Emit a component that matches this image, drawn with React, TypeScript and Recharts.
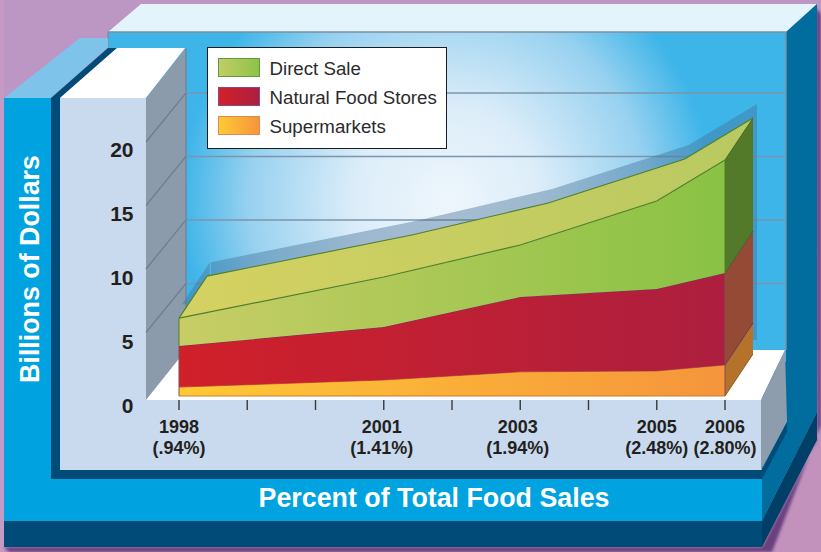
import React from "react";
import {
  Area,
  AreaChart,
  CartesianGrid,
  ComposedChart,
  Label,
  Legend,
  Line,
  ReferenceLine,
  XAxis,
  YAxis,
} from "recharts";

// Survey years and the share of total food sales printed under each one
const years = [1998, 2001, 2003, 2005, 2006];
const shareLabels = ["(.94%)", "(1.41%)", "(1.94%)", "(2.48%)", "(2.80%)"];
const axisYears = [1998, 1999, 2000, 2001, 2002, 2003, 2004, 2005, 2006];
const dollarTicks = [0, 5, 10, 15, 20];
const wallLevels = [5, 10, 15, 20];

// Billions of dollars per channel
const supermarkets = [0.7, 1.26, 1.9, 1.97, 2.44];
const naturalFoodStores = [3.23, 4.17, 5.9, 6.46, 7.24];
const directSale = [2.2, 3.94, 4.09, 6.93, 8.9];

const legendNames = ["Direct Sale", "Natural Food Stores", "Supermarkets"];
const legendGradients = [
  "linear-gradient(90deg,#c3cd66,#8cc346)",
  "linear-gradient(90deg,#d2202a,#ac1f40)",
  "linear-gradient(90deg,#ffca36,#f5953b)",
];

const W = 821;
const H = 552;
const FONT = "'Liberation Sans', Arial, sans-serif";
const INK = "#231f20";

// Vertical rise of the extruded back edge, in axis units
const depthRise = 3.31;
const wallRise = 3.86;

const rows = years.map((year, i) => ({
  year,
  supermarkets: supermarkets[i],
  natural: naturalFoodStores[i],
  direct: directSale[i],
  total: supermarkets[i] + naturalFoodStores[i] + directSale[i],
}));

// Right-hand end cap of the extruded areas, one range band per channel
const last = rows[rows.length - 1];
const capRows = [0, depthRise].map((rise, depth) => ({
  depth,
  supermarkets: [rise, last.supermarkets + rise],
  natural: [last.supermarkets + rise, last.supermarkets + last.natural + rise],
  direct: [last.supermarkets + last.natural + rise, last.total + rise],
}));

// Sliver of the top face that joins the first year's front and back edges
const first = rows[0];
const sliverRows = [0, depthRise].map((rise, depth) => ({
  depth,
  face: [first.total, first.total + rise],
  edge: first.total + rise,
}));

const depthPoints = [
  { depth: 0, level: 0 },
  { depth: 1, level: 0 },
];

const plotY = { top: 78.5, bottom: 156 };
const plotMargin = { left: 179, right: 96, ...plotY };

const layer = (dx: number, dy: number): React.CSSProperties => ({
  position: "absolute",
  left: dx,
  top: dy,
});

const YearAxisHidden = (
  <XAxis dataKey="year" type="number" domain={[1998, 2006]} hide />
);
const DepthAxisHidden = (
  <XAxis dataKey="depth" type="number" domain={[0, 1]} hide />
);
const ValueAxisHidden = <YAxis type="number" domain={[0, 25]} hide />;

// Sideways nudge for the labels that sit off their tick
const labelShift: Record<number, number> = { 2001: -2, 2003: -2.5 };

function YearTick({ x, y, payload }: any) {
  const i = years.indexOf(payload.value);
  const cx = x + (labelShift[payload.value] ?? 0);
  return (
    <g>
      <line x1={x} x2={x} y1={y + 4} y2={y + 14} stroke="#3a3a3a" strokeWidth={1.4} />
      {i >= 0 && (
        <text textAnchor="middle" fontFamily={FONT} fontWeight={700} fontSize={18} fill={INK}>
          <tspan x={cx} y={y + 36.5}>{payload.value}</tspan>
          <tspan x={cx} y={y + 58}>{shareLabels[i]}</tspan>
        </text>
      )}
    </g>
  );
}

function DollarTick({ x, y, payload }: any) {
  return (
    <text
      x={x - 45.5}
      y={y + 16.7 - payload.value * 0.1}
      textAnchor="end"
      fontFamily={FONT}
      fontWeight={700}
      fontSize={21}
      fill={INK}
    >
      {payload.value}
    </text>
  );
}

function ChannelLegend() {
  return (
    <div
      style={{
        boxSizing: "border-box",
        width: 240,
        height: 102,
        background: "#fff",
        border: "1.5px solid #1d1d1f",
        position: "relative",
      }}
    >
      {legendNames.map((name, i) => (
        <div key={name}>
          <div
            style={{
              position: "absolute",
              left: 10,
              top: 9.5 + i * 29.4,
              width: 42,
              height: 19,
              boxSizing: "border-box",
              background: legendGradients[i],
              border: `1px solid ${["#5f9a45", "#8a4a80", "#dd8a55"][i]}`,
            }}
          />
          <div
            style={{
              position: "absolute",
              left: 61.5,
              top: 9.5 + i * 29.4,
              fontFamily: FONT,
              fontSize: 18.7,
              lineHeight: "21px",
              color: "#2b2b2d",
              whiteSpace: "nowrap",
            }}
          >
            {name}
          </div>
        </div>
      ))}
    </div>
  );
}

// The box the chart sits in: frame, back wall, side wall and floor
function Scenery() {
  return (
    <svg width={W} height={H} style={layer(0, 0)}>
      <defs>
        <radialGradient id="wallGlow" gradientUnits="userSpaceOnUse" cx={447} cy={200} r={265}>
          <stop offset="0" stopColor="#eef6fc" />
          <stop offset="0.35" stopColor="#dcedf9" />
          <stop offset="0.75" stopColor="#97d1f0" />
          <stop offset="1" stopColor="#3eb5e9" />
        </radialGradient>
        <filter id="soft" x="-5%" y="-5%" width="110%" height="110%">
          <feGaussianBlur stdDeviation="1.6" />
        </filter>
      </defs>
      <rect width={W} height={H} fill="#bc97c3" />
      <rect x={0} y={0} width={4} height={H} fill="#c79ac5" />
      <polygon points="821,425 821,552 772,552" fill="#c292bd" />
      <polygon
        points="816,8 821,14 821,425 772,552 9,552 4,547 762,547 817,440"
        fill="#6a417e"
        filter="url(#soft)"
      />

      {/* back of the box */}
      <polygon points="108,32 141,4 817,4 786,32" fill="#e3f4fc" />
      <polygon points="786,32 817,4 817,412 762,521 762,98 786,98" fill="#006d9e" />
      <rect x={108} y={32} width={678} height={330} fill="#3eb5e9" />
      <rect x={108} y={32} width={678} height={330} fill="url(#wallGlow)" />
      <path d="M108 47V32H786V350" fill="none" stroke="#7f8fa0" strokeWidth={1.4} />

      {/* front frame */}
      <polygon points="4,98 80,38 108,38 108,47 51,98" fill="#7ec3ea" />
      <polygon points="51,98 108,48 117,48 60,98" fill="#004b78" />
      <polygon points="60,98 117,48 185,48 146,98" fill="#ffffff" />
      <polygon points="146,98 186,48 186,350 146,400" fill="#8c9bac" />
      <line x1={186} y1={48} x2={186} y2={350} stroke="#728599" strokeWidth={1.4} />
      <polygon points="146,400 186,350 785,350 761,400" fill="#ffffff" />
      <polygon points="761,400 785,350 787,422 761,470" fill="#8d9dae" />
      <polygon points="762,470 787,422 787,432 762,479" fill="#004b78" />
      <polygon points="762,521 817,412 817,440 762,547" fill="#003f68" />

      <path d="M4 98H51V479H762V521H4Z" fill="#00a2df" />
      <path d="M51 98H60V470H762V479H51Z" fill="#004b78" />
      <path d="M60 98H146V400H761V470H60Z" fill="#c9daee" />
      <rect x={4} y={521} width={758} height={26} fill="#004b78" />
    </svg>
  );
}

// Gridlines on the back wall, at the same scale as the front, lifted by the box depth
function BackWallGrid() {
  return (
    <AreaChart
      style={layer(0, 0)}
      width={W}
      height={H}
      data={rows}
      margin={{ left: 186, right: 35, top: plotY.top - 49, bottom: plotY.bottom + 49 }}
    >
      <CartesianGrid
        horizontal
        vertical={false}
        horizontalValues={wallLevels}
        stroke="#7d95aa"
        strokeWidth={1.4}
      />
      {YearAxisHidden}
      <YAxis type="number" domain={[0, 25]} ticks={wallLevels} hide />
      <Area
        dataKey="total"
        fill="none"
        stroke="none"
        isAnimationActive={false}
        dot={false}
        activeDot={false}
      />
    </AreaChart>
  );
}

// Diagonal lines running from the labelled levels back across the side wall
function SideWallLines() {
  return (
    <ComposedChart
      style={layer(0, 0)}
      width={W}
      height={H}
      data={depthPoints}
      margin={{ left: 146, right: 635, ...plotY }}
    >
      {DepthAxisHidden}
      {ValueAxisHidden}
      <Line dataKey="level" stroke="none" dot={false} activeDot={false} isAnimationActive={false} />
      {wallLevels.map((level) => (
        <ReferenceLine
          key={level}
          segment={[
            { x: 0, y: level },
            { x: 1, y: level + wallRise },
          ]}
          stroke="#6b7d90"
          strokeWidth={1.2}
        />
      ))}
    </ComposedChart>
  );
}

// Copy of the overall total pushed back in depth, used for the top face and its shadow
function BackSilhouette({ dx, dy, fill, stroke }: { dx: number; dy: number; fill: string; stroke: string }) {
  return (
    <AreaChart style={layer(dx, dy)} width={W} height={H} data={rows} margin={plotMargin}>
      <defs>
        <linearGradient id="topFace" x1="0" x2="1" y1="0" y2="0">
          <stop offset="0" stopColor="#d3d161" />
          <stop offset="1" stopColor="#b8c961" />
        </linearGradient>
      </defs>
      {YearAxisHidden}
      {ValueAxisHidden}
      <Area
        dataKey="total"
        type="linear"
        fill={fill}
        fillOpacity={1}
        stroke={stroke}
        strokeWidth={1.1}
        isAnimationActive={false}
        dot={false}
        activeDot={false}
      />
    </AreaChart>
  );
}

function LeftSliver({ dx, dy, fill, stroke }: { dx: number; dy: number; fill: string; stroke: string }) {
  return (
    <ComposedChart
      style={layer(dx, dy)}
      width={W}
      height={H}
      data={sliverRows}
      margin={{ left: 179, right: 614, ...plotY }}
    >
      {DepthAxisHidden}
      {ValueAxisHidden}
      <Area
        dataKey="face"
        type="linear"
        fill={fill}
        fillOpacity={1}
        stroke="none"
        isAnimationActive={false}
        dot={false}
        activeDot={false}
      />
      <Line
        dataKey="edge"
        type="linear"
        stroke={stroke}
        strokeWidth={1.1}
        isAnimationActive={false}
        dot={false}
        activeDot={false}
      />
    </ComposedChart>
  );
}

function RightCap() {
  const bands = [
    { key: "supermarkets", fill: "#b4722b", stroke: "#8f5a2a" },
    { key: "natural", fill: "#954a36", stroke: "#6a3a62" },
    { key: "direct", fill: "#537a28", stroke: "#47692a" },
  ];
  return (
    <AreaChart
      style={layer(0, 0)}
      width={W}
      height={H}
      data={capRows}
      margin={{ left: 725, right: 68, ...plotY }}
    >
      {DepthAxisHidden}
      {ValueAxisHidden}
      {bands.map((b) => (
        <Area
          key={b.key}
          dataKey={b.key}
          type="linear"
          fill={b.fill}
          fillOpacity={1}
          stroke={b.stroke}
          strokeWidth={1}
          isAnimationActive={false}
          dot={false}
          activeDot={false}
        />
      ))}
    </AreaChart>
  );
}

function FrontChart() {
  return (
    <AreaChart
      style={layer(0, 0)}
      width={W}
      height={H}
      data={rows}
      margin={{ left: 0, right: plotMargin.right, top: plotY.top, bottom: 0 }}
    >
      <defs>
        <linearGradient id="directFill" x1="0" x2="1" y1="0" y2="0">
          <stop offset="0" stopColor="#c8cd66" />
          <stop offset="1" stopColor="#89c244" />
        </linearGradient>
        <linearGradient id="naturalFill" x1="0" x2="1" y1="0" y2="0">
          <stop offset="0" stopColor="#d0202a" />
          <stop offset="1" stopColor="#ad1f3f" />
        </linearGradient>
        <linearGradient id="marketFill" x1="0" x2="1" y1="0" y2="0">
          <stop offset="0" stopColor="#ffc835" />
          <stop offset="1" stopColor="#f5953c" />
        </linearGradient>
      </defs>
      <XAxis
        dataKey="year"
        type="number"
        domain={[1998, 2006]}
        ticks={axisYears}
        interval={0}
        height={plotY.bottom}
        axisLine={false}
        tickLine={false}
        tickSize={0}
        tickMargin={0}
        tick={<YearTick />}
      >
        <Label
          content={() => (
            <text
              x={434}
              y={507}
              textAnchor="middle"
              fontFamily={FONT}
              fontWeight={700}
              fontSize={26.8}
              fill="#ffffff"
            >
              Percent of Total Food Sales
            </text>
          )}
        />
      </XAxis>
      <YAxis
        type="number"
        domain={[0, 25]}
        ticks={dollarTicks}
        width={plotMargin.left}
        axisLine={false}
        tickLine={false}
        tickSize={0}
        tickMargin={0}
        tick={<DollarTick />}
      >
        <Label
          content={() => (
            <text
              x={39}
              y={269}
              transform="rotate(-90 39 269)"
              textAnchor="middle"
              fontFamily={FONT}
              fontWeight={700}
              fontSize={26.8}
              fill="#ffffff"
            >
              Billions of Dollars
            </text>
          )}
        />
      </YAxis>
      <Legend
        layout="vertical"
        align="center"
        verticalAlign="middle"
        content={<ChannelLegend />}
        wrapperStyle={{ left: 207, top: 47, width: 240, height: 102, margin: 0 }}
      />
      <Area
        dataKey="supermarkets"
        stackId="sales"
        type="linear"
        name="Supermarkets"
        fill="url(#marketFill)"
        fillOpacity={1}
        stroke="#b9682f"
        strokeWidth={1}
        isAnimationActive={false}
        dot={false}
        activeDot={false}
      />
      <Area
        dataKey="natural"
        stackId="sales"
        type="linear"
        name="Natural Food Stores"
        fill="url(#naturalFill)"
        fillOpacity={1}
        stroke="#6a3468"
        strokeWidth={1}
        isAnimationActive={false}
        dot={false}
        activeDot={false}
      />
      <Area
        dataKey="direct"
        stackId="sales"
        type="linear"
        name="Direct Sale"
        fill="url(#directFill)"
        fillOpacity={1}
        stroke="#4f7f2d"
        strokeWidth={1.1}
        isAnimationActive={false}
        dot={false}
        activeDot={false}
      />
      {/* Outlines closing the left and right ends of the stack */}
      {[first, last].map((row) => (
        <ReferenceLine
          key={row.year}
          segment={[
            { x: row.year, y: row.supermarkets + row.natural },
            { x: row.year, y: row.total },
          ]}
          stroke="#4f7f2d"
          strokeWidth={1}
        />
      ))}
      {[first, last].map((row) => (
        <ReferenceLine
          key={`base-${row.year}`}
          segment={[
            { x: row.year, y: 0 },
            { x: row.year, y: row.supermarkets + row.natural },
          ]}
          stroke="#8a4a50"
          strokeWidth={1}
        />
      ))}
      <ReferenceLine
        segment={[
          { x: 1998, y: 0 },
          { x: 2006, y: 0 },
        ]}
        stroke="#c87a35"
        strokeWidth={1}
      />
    </AreaChart>
  );
}

export default function App() {
  return (
    <div style={{ position: "absolute", left: 0, top: 0, width: W, height: H, overflow: "hidden" }}>
      <Scenery />
      <BackWallGrid />
      <SideWallLines />
      <LeftSliver dx={3} dy={-14} fill="rgba(70,112,150,0.42)" stroke="none" />
      <BackSilhouette dx={32} dy={-56} fill="rgba(70,112,150,0.42)" stroke="none" />
      <LeftSliver dx={0} dy={0} fill="#d3d161" stroke="#4f7f2d" />
      <BackSilhouette dx={28} dy={-42} fill="url(#topFace)" stroke="#4f7f2d" />
      <RightCap />
      <FrontChart />
    </div>
  );
}
